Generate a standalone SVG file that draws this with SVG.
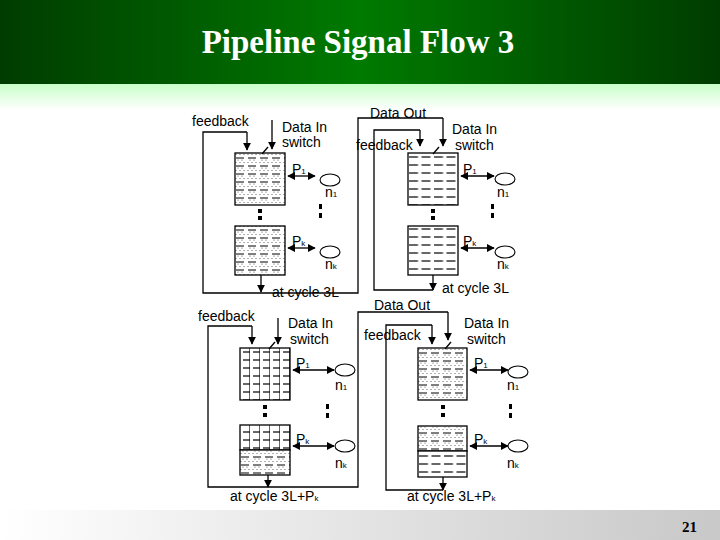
<svg xmlns="http://www.w3.org/2000/svg" width="720" height="540" viewBox="0 0 720 540">
<defs>
<linearGradient id="hdr" x1="0" x2="1" y1="0" y2="0"><stop offset="0" stop-color="#003c00"/><stop offset="0.5" stop-color="#007a00"/><stop offset="1" stop-color="#003c00"/></linearGradient>
<linearGradient id="fade" x1="0" x2="0" y1="0" y2="1"><stop offset="0" stop-color="#c8ffc8"/><stop offset="1" stop-color="#ffffff"/></linearGradient>
<linearGradient id="ftr" x1="0" x2="1" y1="0" y2="0"><stop offset="0" stop-color="#ffffff"/><stop offset="1" stop-color="#c8c8c8"/></linearGradient>
<pattern id="pdot" width="12" height="8" patternUnits="userSpaceOnUse"><rect width="12" height="8" fill="#fff"/><circle cx="1" cy="1.5" r="0.6" fill="#555"/><circle cx="5" cy="1.5" r="0.6" fill="#555"/><circle cx="9" cy="1.5" r="0.6" fill="#555"/><line x1="1" y1="5" x2="9" y2="5" stroke="#000" stroke-width="1"/><circle cx="3" cy="7" r="0.6" fill="#555"/><circle cx="7" cy="7" r="0.6" fill="#555"/></pattern>
<pattern id="pdash" width="12.5" height="8" patternUnits="userSpaceOnUse"><rect width="12.5" height="8" fill="#fff"/><line x1="1" y1="4" x2="10" y2="4" stroke="#000" stroke-width="1.2"/></pattern>
<pattern id="pgrid" width="10" height="8" patternUnits="userSpaceOnUse"><rect width="10" height="8" fill="#fff"/><line x1="10" y1="0" x2="10" y2="8" stroke="#000" stroke-width="1.2"/><line x1="3" y1="4" x2="10" y2="4" stroke="#000" stroke-width="1.2"/></pattern>
<marker id="ah" viewBox="0 0 10 10" refX="9" refY="5" markerWidth="6" markerHeight="6" orient="auto-start-reverse"><path d="M0,0 L10,5 L0,10 z" fill="#000"/></marker>
<style>
.t{font-family:"Liberation Sans",Arial,sans-serif;font-size:14px;fill:#000}
.s{font-size:8px}
.ln{fill:none;stroke:#000;stroke-width:1.3}
.bx{stroke:#000;stroke-width:1.3}
.el{fill:#fff;stroke:#000;stroke-width:1.1}
.dt{fill:#000}
</style>
</defs>
<rect width="720" height="84" fill="url(#hdr)"/>
<rect y="84" width="720" height="26" fill="url(#fade)"/>
<rect y="510" width="720" height="30" fill="url(#ftr)"/>
<text x="358" y="53" text-anchor="middle" font-family="Liberation Serif,serif" font-size="33" font-weight="bold" fill="#fff">Pipeline Signal Flow 3</text>
<text x="697" y="532" text-anchor="end" font-family="Liberation Serif,serif" font-size="15" font-weight="bold" fill="#000">21</text>

<g id="connectors">
<polyline class="ln" points="247,132 203,132 203,293 358,293 358,118 443,118"/>
<line class="ln" x1="247" y1="132" x2="247" y2="150" marker-end="url(#ah)"/>
<line class="ln" x1="443" y1="118" x2="443" y2="146" marker-end="url(#ah)"/>
<polyline class="ln" points="420,130 374,130 374,290 433,290"/>
<line class="ln" x1="420" y1="130" x2="420" y2="146" marker-end="url(#ah)"/>
<polyline class="ln" points="252,326 208,326 208,487 358,487 358,312 448,312"/>
<line class="ln" x1="252" y1="326" x2="252" y2="344" marker-end="url(#ah)"/>
<line class="ln" x1="448" y1="312" x2="448" y2="340" marker-end="url(#ah)"/>
<polyline class="ln" points="432,325 386,325 386,490 443,490"/>
<line class="ln" x1="432" y1="325" x2="432" y2="344" marker-end="url(#ah)"/>
</g>

<g id="panel-tl" transform="translate(235,153)">
<rect class="bx" x="0" y="0" width="50" height="52" fill="url(#pdot)"/>
<rect class="bx" x="0" y="73" width="50" height="49" fill="url(#pdot)"/>
<rect class="dt" x="23" y="56" width="4" height="4"/><rect class="dt" x="23" y="63" width="4" height="4"/>
<line class="ln" x1="37" y1="-33" x2="37" y2="-4" marker-end="url(#ah)"/>
<line class="ln" x1="33" y1="-6" x2="27" y2="1"/>
<text class="t" x="47" y="-21">Data In</text><text class="t" x="47" y="-6">switch</text>
<line class="ln" x1="53" y1="23" x2="80" y2="23" marker-start="url(#ah)" marker-end="url(#ah)"/>
<text class="t" x="57" y="21">P<tspan class="s">1</tspan></text>
<ellipse class="el" cx="95" cy="27" rx="10" ry="6"/>
<text class="t" x="90" y="44">n<tspan class="s">1</tspan></text>
<rect class="dt" x="84" y="51" width="3" height="5"/><rect class="dt" x="84" y="60" width="3" height="5"/>
<line class="ln" x1="53" y1="95" x2="80" y2="95" marker-start="url(#ah)" marker-end="url(#ah)"/>
<text class="t" x="57" y="93">P<tspan class="s">k</tspan></text>
<ellipse class="el" cx="95" cy="99" rx="10" ry="6"/>
<text class="t" x="90" y="116">n<tspan class="s">k</tspan></text>
<line class="ln" x1="26" y1="122" x2="26" y2="139" marker-end="url(#ah)"/>
<text class="t" x="37" y="144">at cycle 3L</text>
<text class="t" x="-43" y="-27">feedback</text>
</g>

<g id="panel-tr" transform="translate(408,153)">
<rect class="bx" x="0" y="0" width="50" height="52" fill="url(#pdash)"/>
<rect class="bx" x="0" y="73" width="50" height="49" fill="url(#pdash)"/>
<rect class="dt" x="23" y="56" width="4" height="4"/><rect class="dt" x="23" y="63" width="4" height="4"/>
<line class="ln" x1="31" y1="-6" x2="25" y2="1"/>
<text class="t" x="44" y="-19">Data In</text><text class="t" x="47" y="-3">switch</text>
<line class="ln" x1="53" y1="23" x2="86" y2="23" marker-start="url(#ah)" marker-end="url(#ah)"/>
<text class="t" x="55" y="21">P<tspan class="s">1</tspan></text>
<ellipse class="el" cx="97" cy="26" rx="10" ry="6"/>
<text class="t" x="89" y="44">n<tspan class="s">1</tspan></text>
<rect class="dt" x="83" y="51" width="3" height="5"/><rect class="dt" x="83" y="60" width="3" height="5"/>
<line class="ln" x1="53" y1="95" x2="86" y2="95" marker-start="url(#ah)" marker-end="url(#ah)"/>
<text class="t" x="55" y="93">P<tspan class="s">k</tspan></text>
<ellipse class="el" cx="97" cy="99" rx="10" ry="6"/>
<text class="t" x="89" y="116">n<tspan class="s">k</tspan></text>
<text class="t" x="34" y="140">at cycle 3L</text>
<text class="t" x="-38" y="-35">Data Out</text>
<text class="t" x="-52" y="-3">feedback</text>
</g>
<line class="ln" x1="433" y1="275" x2="433" y2="290" marker-end="url(#ah)"/>

<g id="panel-bl" transform="translate(240,348)">
<rect class="bx" x="0" y="0" width="50" height="52" fill="url(#pgrid)"/>
<rect class="bx" x="0" y="77" width="50" height="25" fill="url(#pgrid)"/>
<rect class="bx" x="0" y="102" width="50" height="25" fill="url(#pdot)"/>
<rect class="dt" x="23" y="57" width="4" height="4"/><rect class="dt" x="23" y="65" width="4" height="4"/>
<line class="ln" x1="38" y1="-30" x2="38" y2="-4" marker-end="url(#ah)"/>
<line class="ln" x1="35" y1="-6" x2="29" y2="1"/>
<text class="t" x="48" y="-20">Data In</text><text class="t" x="50" y="-4">switch</text>
<line class="ln" x1="53" y1="22" x2="94" y2="22" marker-start="url(#ah)" marker-end="url(#ah)"/>
<text class="t" x="56" y="20">P<tspan class="s">1</tspan></text>
<ellipse class="el" cx="105" cy="22" rx="10" ry="6"/>
<text class="t" x="95" y="42">n<tspan class="s">1</tspan></text>
<rect class="dt" x="86" y="56" width="3" height="5"/><rect class="dt" x="86" y="65" width="3" height="5"/>
<line class="ln" x1="53" y1="98" x2="94" y2="98" marker-start="url(#ah)" marker-end="url(#ah)"/>
<text class="t" x="56" y="96">P<tspan class="s">k</tspan></text>
<ellipse class="el" cx="105" cy="98" rx="10" ry="6"/>
<text class="t" x="95" y="120">n<tspan class="s">k</tspan></text>
<line class="ln" x1="28" y1="127" x2="28" y2="139" marker-end="url(#ah)"/>
<text class="t" x="-10" y="153">at cycle 3L+P<tspan class="s">k</tspan></text>
<text class="t" x="-42" y="-27">feedback</text>
</g>

<g id="panel-br" transform="translate(418,348)">
<rect class="bx" x="0" y="0" width="49" height="52" fill="url(#pdot)"/>
<rect class="bx" x="0" y="78" width="49" height="25" fill="url(#pdot)"/>
<rect class="bx" x="0" y="103" width="49" height="26" fill="url(#pdash)"/>
<rect class="dt" x="23" y="57" width="4" height="4"/><rect class="dt" x="23" y="65" width="4" height="4"/>
<line class="ln" x1="33" y1="-6" x2="27" y2="1"/>
<text class="t" x="46" y="-20">Data In</text><text class="t" x="49" y="-4">switch</text>
<line class="ln" x1="52" y1="22" x2="90" y2="22" marker-start="url(#ah)" marker-end="url(#ah)"/>
<text class="t" x="56" y="20">P<tspan class="s">1</tspan></text>
<ellipse class="el" cx="100" cy="24" rx="10" ry="6"/>
<text class="t" x="89" y="42">n<tspan class="s">1</tspan></text>
<rect class="dt" x="91" y="56" width="3" height="5"/><rect class="dt" x="91" y="65" width="3" height="5"/>
<line class="ln" x1="52" y1="98" x2="90" y2="98" marker-start="url(#ah)" marker-end="url(#ah)"/>
<text class="t" x="56" y="96">P<tspan class="s">k</tspan></text>
<ellipse class="el" cx="100" cy="98" rx="10" ry="6"/>
<text class="t" x="89" y="120">n<tspan class="s">k</tspan></text>
<line class="ln" x1="25" y1="129" x2="25" y2="142" marker-end="url(#ah)"/>
<text class="t" x="-11" y="153">at cycle 3L+P<tspan class="s">k</tspan></text>
<text class="t" x="-44" y="-38">Data Out</text>
<text class="t" x="-54" y="-8">feedback</text>
</g>
</svg>
